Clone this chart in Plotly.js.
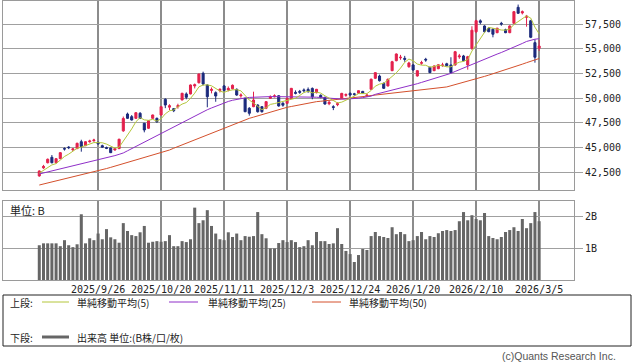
<!DOCTYPE html>
<html>
<head>
<meta charset="utf-8">
<script src="https://cdn.plot.ly/plotly-3.0.1.min.js"></script>
<style>html,body{margin:0;padding:0;background:#fff;}#chart{width:638px;height:362px;}</style>
</head>
<body>
<div id="chart"></div>
<script>
const dates = [
"2025/9/4","2025/9/5","2025/9/8","2025/9/9","2025/9/10","2025/9/11","2025/9/12","2025/9/16","2025/9/17","2025/9/18","2025/9/19","2025/9/22","2025/9/24","2025/9/25","2025/9/26",
"2025/9/29","2025/9/30","2025/10/1","2025/10/2","2025/10/3","2025/10/6","2025/10/7","2025/10/8","2025/10/9","2025/10/10","2025/10/14","2025/10/15","2025/10/16","2025/10/17","2025/10/20",
"2025/10/21","2025/10/22","2025/10/23","2025/10/24","2025/10/27","2025/10/28","2025/10/29","2025/10/30","2025/10/31","2025/11/4","2025/11/5","2025/11/6","2025/11/7","2025/11/10","2025/11/11",
"2025/11/12","2025/11/13","2025/11/14","2025/11/17","2025/11/18","2025/11/19","2025/11/20","2025/11/21","2025/11/25","2025/11/26","2025/11/27","2025/11/28","2025/12/1","2025/12/2","2025/12/3",
"2025/12/4","2025/12/5","2025/12/8","2025/12/9","2025/12/10","2025/12/11","2025/12/12","2025/12/15","2025/12/16","2025/12/17","2025/12/18","2025/12/19","2025/12/22","2025/12/23","2025/12/24",
"2025/12/25","2025/12/26","2025/12/29","2025/12/30","2026/1/5","2026/1/6","2026/1/7","2026/1/8","2026/1/9","2026/1/13","2026/1/14","2026/1/15","2026/1/16","2026/1/19","2026/1/20",
"2026/1/21","2026/1/22","2026/1/23","2026/1/26","2026/1/27","2026/1/28","2026/1/29","2026/1/30","2026/2/2","2026/2/3","2026/2/4","2026/2/5","2026/2/6","2026/2/9","2026/2/10",
"2026/2/12","2026/2/13","2026/2/16","2026/2/17","2026/2/18","2026/2/19","2026/2/20","2026/2/24","2026/2/25","2026/2/26","2026/2/27","2026/3/2","2026/3/3","2026/3/4","2026/3/5"];

const open = [42130,42950,43470,44020,43470,43880,44900,45050,44780,44900,45600,45200,45600,45700,45540,
45200,45000,44960,44760,44900,46700,48410,48140,47970,48480,47470,46960,47970,47970,48310,
49900,49100,48950,49150,49830,50440,50440,51250,51580,52530,51350,50800,50570,50800,51250,
50850,50970,50910,50250,50000,48990,49150,49320,49150,48990,50000,50150,50260,49500,49490,
50000,50600,50700,50850,50900,51000,50570,50300,50100,49450,49150,49350,49990,50300,50500,
50450,50520,50700,50250,50910,52030,52260,51520,51250,52800,53810,54100,54050,53200,53380,
52260,53550,53950,53140,52800,53000,53300,53500,53380,53380,54200,54290,53380,55070,56750,
57850,57330,57100,57000,56650,57600,56950,56650,57600,59220,58650,58200,57860,55640,55070];
const high = [42700,43250,43900,44250,43950,44550,45020,45150,44950,45500,45800,45650,45800,45900,45600,
45300,45100,45000,44950,45900,48150,48550,48300,48600,48600,47500,47800,48350,48050,49200,
50000,49400,49000,49450,50550,50600,51400,51500,52500,52700,51400,51100,50700,51000,51350,
51200,51400,51000,50500,50050,49100,50670,49400,49200,49700,50300,50400,50300,49600,50050,
51050,50800,50850,51000,51100,51100,50950,50400,50150,49800,49300,49600,50550,50500,50600,
50550,50800,50750,50450,52000,52650,52400,51600,52000,53800,54550,54400,54300,53700,53450,
52850,53800,54100,53200,53350,53450,53600,53600,54160,54800,54500,54400,54300,57300,57950,
58000,57400,57200,57100,57150,57750,57050,57400,58850,59500,58900,58450,57950,55980,55900];
const low = [42050,42850,43400,43400,43400,43850,44700,44850,44650,44850,44590,45150,45500,45600,45300,
45000,44850,44450,44700,44850,46600,47900,47750,47900,47900,46550,46900,47900,47500,48250,
49000,48800,48600,48950,49800,49900,50400,51000,51500,51300,49090,50500,49650,50600,50700,
50700,50900,50250,50050,48600,48240,49100,48550,48550,48900,49950,50100,49150,49150,49450,
49950,50400,50450,50600,50550,49900,50500,50000,49350,49300,48800,49200,49950,50150,50250,
50250,50450,50450,50150,50850,51950,51700,50950,51200,52750,53750,53900,53700,53100,52800,
52200,53400,53700,52550,52750,52950,53200,53250,52550,53300,54000,53750,52900,54900,56600,
57500,56650,56700,56180,56600,57350,56600,56600,57550,58550,58500,57260,56100,53610,54800];
const close = [42630,43100,43820,43470,43880,44490,44860,45000,44870,45440,45100,45600,45670,45770,45380,
45050,44930,44490,44900,45850,47950,47970,47800,48540,47970,46790,47730,48310,47630,49150,
49320,49250,48740,49250,50510,50100,51350,51380,52460,51450,50160,50900,50230,50910,50800,
51000,51320,50330,50330,48640,48480,49830,48640,48640,49660,50130,50250,49220,49300,50000,
51010,50510,50610,50770,50700,50150,50910,50100,49420,49600,49080,49450,50500,50380,50340,
50400,50770,50530,50320,51930,52600,51780,51010,51930,53710,54490,54160,53950,53580,52870,
52800,53610,53880,52600,53270,53400,53380,53300,52600,54720,54290,53810,54220,56900,57860,
57700,56750,56750,56490,57100,57530,56650,57330,58780,58620,58780,58340,56180,54160,55300];

const ma5 = [42420,42700,43000,43250,43380,43752,44104,44340,44620,44932,45054,45202,45336,45516,45504,
45494,45360,45124,44950,45044,45624,46232,46894,47622,48046,47814,47766,47868,47686,47922,
48428,48732,48818,49142,49414,49570,49990,50518,51160,51348,51360,51270,51040,50730,50600,
50768,50852,50872,50756,50324,49820,49522,49184,48846,49050,49380,49464,49580,49712,49780,
49956,50008,50286,50580,50720,50548,50628,50526,50256,50036,49822,49530,49610,49802,49950,
50214,50478,50484,50472,50790,51230,51432,51528,51850,52206,52584,53060,53648,53976,53808,
53470,53360,53346,53150,53230,53350,53304,53188,53188,53478,53656,53742,53926,54786,55414,
56096,56684,57190,57108,56956,56922,56902,57018,57476,57780,58026,58360,58130,57206,56540];
const ma25 = [42330,42430,42530,42630,42730,42830,42930,43030,43130,43230,43330,43430,43530,43630,43730,
43850,43950,44070,44190,44320,44460,44680,44900,45120,45340,45560,45780,46000,46200,46410,
46620,46850,47080,47310,47540,47780,48010,48240,48450,48650,48840,49020,49200,49380,49550,
49680,49800,49900,49980,50040,50090,50120,50140,50150,50160,50170,50170,50170,50170,50170,
50170,50170,50160,50160,50160,50140,50110,50080,50040,50000,49960,49930,49920,49920,49930,
49960,50010,50070,50140,50220,50400,50500,50600,50700,50800,50920,51040,51150,51250,51350,
51480,51610,51740,51860,51990,52120,52250,52390,52530,52720,52900,53080,53270,53460,53650,
53820,53980,54150,54310,54480,54640,54810,54970,55140,55350,55560,55760,55910,55990,56040];
const ma50 = [41210,41310,41410,41510,41610,41710,41810,41920,42020,42120,42220,42320,42420,42530,42630,
42750,42880,43000,43120,43240,43370,43490,43610,43740,43860,43980,44100,44220,44340,44470,
44590,44760,44940,45110,45290,45460,45640,45810,45980,46150,46330,46500,46680,46850,47020,
47180,47340,47500,47650,47810,47970,48090,48220,48340,48470,48590,48720,48840,48970,49090,
49170,49260,49340,49420,49500,49580,49660,49700,49740,49790,49830,49870,49910,49960,50000,
50060,50110,50170,50220,50280,50330,50380,50420,50460,50510,50550,50590,50630,50680,50720,
50770,50820,50880,50930,50990,51040,51100,51150,51270,51380,51500,51610,51730,51840,51960,
52090,52220,52350,52480,52610,52740,52870,53020,53170,53310,53460,53610,53760,53910,54030];

const volumeB = [1.10,1.16,1.16,1.16,1.16,1.07,1.26,1.10,1.04,1.13,2.08,1.16,1.32,1.26,1.47,
1.29,1.61,1.35,1.29,1.18,1.80,1.55,1.42,1.39,1.51,1.71,1.18,1.21,1.23,1.21,
1.23,1.42,1.07,1.07,1.23,1.20,1.29,2.29,1.80,1.89,2.21,1.71,1.47,1.29,1.26,
1.51,1.36,1.47,1.26,1.39,1.37,1.39,2.15,1.45,1.32,1.00,1.00,1.17,1.26,1.20,
1.26,1.20,1.04,1.07,1.26,1.10,1.52,1.23,1.23,1.14,1.16,1.64,1.14,0.92,0.82,
0.57,0.79,0.98,0.95,1.39,1.52,1.39,1.36,1.33,1.67,1.45,1.52,1.45,1.23,1.26,
1.39,1.52,1.29,1.39,1.36,1.48,1.55,1.58,1.55,1.58,1.86,2.15,1.89,2.05,1.93,
1.89,2.12,1.39,1.33,1.29,1.36,1.52,1.58,1.67,1.55,1.93,1.64,1.80,2.15,1.86];

const xTickDates = ["2025/9/26","2025/10/20","2025/11/11","2025/12/3","2025/12/24","2026/1/20","2026/2/10","2026/3/5"];
const priceTicks = [42500,45000,47500,50000,52500,55000,57500];
const priceTickText = ["42,500","45,000","47,500","50,000","52,500","55,000","57,500"];
const volTicks = [1,2];
const volTickText = ["1B","2B"];

const legendItems = ["単純移動平均(5)","単純移動平均(25)","単純移動平均(50)"];
const volumeLegend = "出来高 単位:(B株/口/枚)";

// --- styles / layout helpers ---
const W = 638, H = 362;
const L = 3, R = 574, T = 1, B = 280;
const px = x => (x - L) / (R - L);
const py = y => (B - y) / (B - T);

const RED = "#e3204c", BLUE = "#1b2a7c";
const C5 = "#b4c63a", C25 = "#8f2fc8", C50 = "#d4502c";
const GRID = "#a0a0a0", BORDER = "#9a9a9a";
const VGRID = "#8c8c8c";
const JP = "Noto Sans CJK JP, sans-serif";

const traces = [
  {type: "candlestick", x: dates, open: open, high: high, low: low, close: close,
   xaxis: "x", yaxis: "y",
   increasing: {line: {color: RED, width: 1}, fillcolor: RED},
   decreasing: {line: {color: BLUE, width: 1}, fillcolor: BLUE},
   whiskerwidth: 0, hoverinfo: "skip", showlegend: false},
  {type: "scatter", mode: "lines", x: dates, y: ma50, line: {color: C50, width: 1}, xaxis: "x", yaxis: "y", showlegend: false, hoverinfo: "skip"},
  {type: "scatter", mode: "lines", x: dates, y: ma25, line: {color: C25, width: 1}, xaxis: "x", yaxis: "y", showlegend: false, hoverinfo: "skip"},
  {type: "scatter", mode: "lines", x: dates, y: ma5, line: {color: C5, width: 1}, xaxis: "x", yaxis: "y", showlegend: false, hoverinfo: "skip"},
  {type: "bar", x: dates, y: volumeB, marker: {color: "#666666", line: {width: 0}}, xaxis: "x2", yaxis: "y2", showlegend: false, hoverinfo: "skip"}
];

const xRange = [-8.64, 127.3];
const xCommon = {
  type: "category", categoryorder: "array", categoryarray: dates,
  range: xRange, tickmode: "array", tickvals: xTickDates, ticktext: xTickDates, tickangle: 0,
  showgrid: true, gridcolor: VGRID, gridwidth: 1.5,
  showline: true, linecolor: BORDER, linewidth: 1, mirror: true,
  ticks: "", zeroline: false, rangeslider: {visible: false}, fixedrange: true
};

const annotations = [
  {text: "単位: B", xref: "paper", yref: "paper", x: px(8), y: py(210), xanchor: "left", yanchor: "middle",
   showarrow: false, font: {family: JP, size: 11, color: "#222"}},
  {text: "上段:", xref: "paper", yref: "paper", x: px(8), y: py(302), xanchor: "left", yanchor: "middle",
   showarrow: false, font: {family: JP, size: 10, color: "#222"}},
  {text: legendItems[0], xref: "paper", yref: "paper", x: px(75), y: py(302), xanchor: "left", yanchor: "middle",
   showarrow: false, font: {family: JP, size: 10, color: "#222"}},
  {text: legendItems[1], xref: "paper", yref: "paper", x: px(206), y: py(302), xanchor: "left", yanchor: "middle",
   showarrow: false, font: {family: JP, size: 10, color: "#222"}},
  {text: legendItems[2], xref: "paper", yref: "paper", x: px(347), y: py(302), xanchor: "left", yanchor: "middle",
   showarrow: false, font: {family: JP, size: 10, color: "#222"}},
  {text: "下段:", xref: "paper", yref: "paper", x: px(8), y: py(337), xanchor: "left", yanchor: "middle",
   showarrow: false, font: {family: JP, size: 10, color: "#222"}},
  {text: volumeLegend, xref: "paper", yref: "paper", x: px(75), y: py(337), xanchor: "left", yanchor: "middle",
   showarrow: false, font: {family: JP, size: 10, color: "#222"}},
  {text: "(c)Quants Research Inc.", xref: "paper", yref: "paper", x: px(618), y: py(356), xanchor: "right", yanchor: "middle",
   showarrow: false, font: {family: "Liberation Sans, sans-serif", size: 10.5, color: "#555"}}
];

// vertical grid lines at the labelled dates, in both panels (position from the category index on the axis range)
const gridShapes = [];
xTickDates.forEach(d => {
  const gx = (dates.indexOf(d) - xRange[0]) / (xRange[1] - xRange[0]);
  gridShapes.push({type: "line", xref: "paper", yref: "paper", x0: gx, x1: gx, y0: py(190), y1: 1,
    line: {color: VGRID, width: 1.5}, layer: "below"});
  gridShapes.push({type: "line", xref: "paper", yref: "paper", x0: gx, x1: gx, y0: 0, y1: py(201),
    line: {color: VGRID, width: 1.5}, layer: "below"});
});

const shapes = gridShapes.concat([
  {type: "rect", xref: "paper", yref: "paper", x0: px(3), x1: px(631), y0: py(346), y1: py(295),
   line: {color: "#222", width: 1}, fillcolor: "rgba(0,0,0,0)"},
  {type: "line", xref: "paper", yref: "paper", x0: px(42), x1: px(69), y0: py(302), y1: py(302), line: {color: C5, width: 1}},
  {type: "line", xref: "paper", yref: "paper", x0: px(169), x1: px(198), y0: py(302), y1: py(302), line: {color: C25, width: 1}},
  {type: "line", xref: "paper", yref: "paper", x0: px(312), x1: px(341), y0: py(302), y1: py(302), line: {color: C50, width: 1}},
  {type: "line", xref: "paper", yref: "paper", x0: px(42), x1: px(69), y0: py(337), y1: py(337), line: {color: "#666", width: 3}}
]);

const layout = {
  width: W, height: H,
  margin: {l: L, r: W - R, t: T, b: H - B, pad: 0},
  paper_bgcolor: "#fff", plot_bgcolor: "rgba(0,0,0,0)",
  showlegend: false, bargap: 0.28, boxgap: 0.3,
  xaxis: Object.assign({}, xCommon, {anchor: "y", showticklabels: false}),
  xaxis2: Object.assign({}, xCommon, {anchor: "y2", showticklabels: true,
    tickfont: {family: "DejaVu Sans Mono, monospace", size: 10, color: "#222"}}),
  yaxis: {domain: [py(190), 1], side: "right", range: [40706, 59861],
    tickvals: priceTicks, ticktext: priceTickText,
    ticks: "outside", ticklen: 8, tickcolor: GRID, tickwidth: 1,
    showgrid: true, gridcolor: GRID, showline: true, linecolor: BORDER, mirror: true,
    zeroline: false, fixedrange: true,
    tickfont: {family: "DejaVu Sans Mono, monospace", size: 10, color: "#222"}},
  yaxis2: {domain: [0, py(201)], side: "right", range: [0, 2.5],
    tickvals: volTicks, ticktext: volTickText,
    ticks: "outside", ticklen: 8, tickcolor: GRID, tickwidth: 1,
    showgrid: true, gridcolor: GRID, showline: true, linecolor: BORDER, mirror: true,
    zeroline: false, fixedrange: true,
    tickfont: {family: "DejaVu Sans Mono, monospace", size: 10, color: "#222"}},
  annotations: annotations,
  shapes: shapes
};

Plotly.newPlot("chart", traces, layout, {staticPlot: true, displayModeBar: false});
</script>
</body>
</html>
